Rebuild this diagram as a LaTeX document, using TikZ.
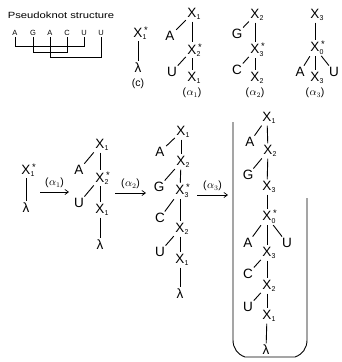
\documentclass[tikz,border=0pt]{standalone}
\usepackage{fontspec}
\setmainfont{Liberation Sans}
\usetikzlibrary{arrows.meta}
\newcommand{\Xsub}[1]{X\rlap{\raisebox{-2.5pt}{\fontsize{7}{7}\selectfont #1}}}
\newcommand{\Xss}[1]{X\rlap{\raisebox{-2.5pt}{\fontsize{7}{7}\selectfont #1}}\rlap{\raisebox{4pt}{\fontsize{9.5}{9.5}\selectfont\,*}}}
\tikzset{
  sym/.style={font=\fontsize{13.5}{13.5}\selectfont, inner sep=1.5pt},
  seq/.style={font=\fontsize{7.5}{7.5}\selectfont, inner sep=1pt, text height=5.4pt, text depth=0pt},
  edge/.style={line width=0.9pt},
  thin/.style={line width=0.6pt},
  lab/.style={font=\fontsize{10.5}{10.5}\selectfont, inner sep=1pt},
  arr/.style={line width=0.7pt, -{Straight Barb[length=3.5pt,width=5pt]}}
}
\newcommand{\alab}[1]{(\kern0.5pt$\alpha_{#1}$)}
\begin{document}
\begin{tikzpicture}[x=1pt,y=-1pt]
\useasboundingbox (0,0) rectangle (341,362);
% Pseudoknot structure
\node[font=\fontsize{9}{9}\selectfont, inner sep=0pt] (title) at (61,15) {\scalebox{1.25}[1]{Pseudoknot structure}};
\node[seq] (s1) at (15,33) {A};
\node[seq] (s2) at (33,33) {G};
\node[seq] (s3) at (50,33) {A};
\node[seq] (s4) at (67,33) {C};
\node[seq] (s5) at (84,33) {U};
\node[seq] (s6) at (101,33) {U};
\draw[thin] (s1.south) -- ++(0,9) -| (s5.south);
\draw[thin] (s2.south) -- ++(0,15) -| (s4.south);
\draw[thin] (s3.south) -- ++(0,20) -| (s6.south);
% (c)
\node[sym] (c0) at (138,33) {\Xss{1}};
\node[sym] (c1) at (138,68) {λ};
\draw[edge] (c0) -- (c1);
\node[lab] (cl) at (138,84) {(c)};
% alpha1
\node[sym] (a0) at (192,14) {\Xsub{1}};
\node[sym] (aA) at (170,36) {A};
\node[sym] (a1) at (192,50) {\Xss{2}};
\node[sym] (aU) at (172,72) {U};
\node[sym] (a2) at (192,78) {\Xsub{1}};
\draw[edge] (a0) -- (aA); \draw[edge] (a0) -- (a1);
\draw[edge] (a1) -- (aU); \draw[edge] (a1) -- (a2);
\node[lab] (al) at (192,93) {\alab{1}};
% alpha2
\node[sym] (b0) at (255,15) {\Xsub{2}};
\node[sym] (bG) at (237,34) {G};
\node[sym] (b1) at (255,50) {\Xss{3}};
\node[sym] (bC) at (237,70) {C};
\node[sym] (b2) at (255,78) {\Xsub{2}};
\draw[edge] (b0) -- (bG); \draw[edge] (b0) -- (b1);
\draw[edge] (b1) -- (bC); \draw[edge] (b1) -- (b2);
\node[lab] (bl) at (255,93) {\alab{2}};
% alpha3
\node[sym] (d0) at (315,15) {\Xsub{3}};
\node[sym] (d1) at (315,48) {\Xss{0}};
\node[sym] (dA) at (300,72) {A};
\node[sym] (dU) at (334,72) {U};
\node[sym] (d2) at (315,78) {\Xsub{3}};
\draw[edge] (d0) -- (d1);
\draw[edge] (d1) -- (dA); \draw[edge] (d1) -- (dU); \draw[edge] (d1) -- (d2);
\node[lab] (dl) at (315,93) {\alab{3}};
% row 2: tree 1
\node[sym] (r0) at (26,170) {\Xss{1}};
\node[sym] (r1) at (26,208) {λ};
\draw[edge] (r0) -- (r1);
\coordinate (p1s) at (40,192); \coordinate (p1e) at (69,192);
\draw[arr] (p1s) -- node[lab, above=3pt] {\alab{1}} (p1e);
% tree 2
\node[sym] (m0) at (100,145) {\Xsub{1}};
\node[sym] (mA) at (79,170) {A};
\node[sym] (m1) at (100,178) {\Xss{2}};
\node[sym] (mU) at (79,203) {U};
\node[sym] (m2) at (100,210) {\Xsub{1}};
\node[sym] (m3) at (100,245) {λ};
\draw[edge] (m0) -- (mA); \draw[edge] (m0) -- (m1);
\draw[edge] (m1) -- (mU); \draw[edge] (m1) -- (m2);
\draw[edge] (m2) -- (m3);
\coordinate (p2s) at (115,193); \coordinate (p2e) at (146,193);
\draw[arr] (p2s) -- node[lab, above=3pt] {\alab{2}} (p2e);
% tree 3
\node[sym] (t0) at (181,132) {\Xsub{1}};
\node[sym] (tA) at (160,152) {A};
\node[sym] (t1) at (181,162) {\Xsub{2}};
\node[sym] (tG) at (159,187) {G};
\node[sym] (t2) at (180,191) {\Xss{3}};
\node[sym] (tC) at (160,218) {C};
\node[sym] (t3) at (180,229) {\Xsub{2}};
\node[sym] (tU) at (160,252) {U};
\node[sym] (t4) at (180,260) {\Xsub{1}};
\node[sym] (t5) at (180,294) {λ};
\draw[edge] (t0) -- (tA); \draw[edge] (t0) -- (t1);
\draw[edge] (t1) -- (tG); \draw[edge] (t1) -- (t2);
\draw[edge] (t2) -- (tC); \draw[edge] (t2) -- (t3);
\draw[edge] (t3) -- (tU); \draw[edge] (t3) -- (t4);
\draw[edge] (t4) -- (t5);
\coordinate (p3s) at (197,195); \coordinate (p3e) at (228,195);
\draw[arr] (p3s) -- node[lab, above=3pt] {\alab{3}} (p3e);
% big tree
\node[sym] (g0) at (267,118) {\Xsub{1}};
\node[sym] (gA) at (250,142) {A};
\node[sym] (g1) at (268,151) {\Xsub{2}};
\node[sym] (gG) at (248,175) {G};
\node[sym] (g2) at (267,187) {\Xsub{3}};
\node[sym] (g3) at (267,217) {\Xss{0}};
\node[sym] (gA2) at (248,243) {A};
\node[sym] (gU) at (287,243) {U};
\node[sym] (g4) at (267,253) {\Xsub{3}};
\node[sym] (gC) at (248,274) {C};
\node[sym] (g5) at (267,286) {\Xsub{2}};
\node[sym] (gU2) at (248,307) {U};
\node[sym] (g6) at (267,316) {\Xsub{1}};
\node[sym] (g7) at (266,350) {λ};
\draw[edge] (g0) -- (gA); \draw[edge] (g0) -- (g1);
\draw[edge] (g1) -- (gG); \draw[edge] (g1) -- (g2);
\draw[edge] (g2) -- (g3);
\draw[edge] (g3) -- (gA2); \draw[edge] (g3) -- (gU); \draw[edge] (g3) -- (g4);
\draw[edge] (g4) -- (gC); \draw[edge] (g4) -- (g5);
\draw[edge] (g5) -- (gU2); \draw[edge] (g5) -- (g6);
\draw[edge] (g6) -- (g7);
% enclosing bracket
\draw[edge] (233,122) -- (233,340) to[out=-90,in=160] (245,357) -- (295,357) to[out=20,in=-90] (307,340) -- (307,198);
\end{tikzpicture}
\end{document}
